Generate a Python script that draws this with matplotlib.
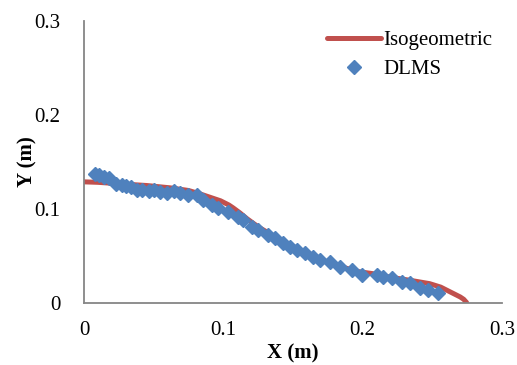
import matplotlib
matplotlib.use("Agg")
import matplotlib.pyplot as plt

# Isogeometric solution (red line)
iso_x = [0.0, 0.010, 0.026, 0.045, 0.062, 0.075, 0.083, 0.091, 0.098, 0.104,
         0.107, 0.112, 0.117, 0.122, 0.126, 0.135, 0.145, 0.155, 0.165, 0.175,
         0.185, 0.197, 0.207, 0.220, 0.235, 0.248, 0.256, 0.262, 0.266, 0.270,
         0.2725, 0.2746]
iso_y = [0.1287, 0.1282, 0.1266, 0.1248, 0.1223, 0.1195, 0.1160, 0.1120, 0.1085, 0.1040,
         0.1010, 0.0955, 0.0894, 0.0840, 0.0798, 0.0720, 0.0640, 0.0560, 0.0490, 0.0430,
         0.0380, 0.0330, 0.0309, 0.0270, 0.0235, 0.0202, 0.0165, 0.0120, 0.0090, 0.0060,
         0.0035, 0.0]

# DLMS solution (blue diamonds)
dlms_x = [0.0079, 0.0108, 0.0144, 0.0179, 0.0230, 0.0273, 0.0302, 0.0337, 0.0380, 0.0416,
          0.0467, 0.0503, 0.0546, 0.0596, 0.0646, 0.0689, 0.0747, 0.0811, 0.0854, 0.0919,
          0.0962, 0.1034, 0.1106, 0.1141, 0.1206, 0.1249, 0.1320, 0.1371, 0.1429, 0.1479,
          0.1529, 0.1587, 0.1644, 0.1694, 0.1766, 0.1838, 0.1924, 0.1996, 0.2103, 0.2146,
          0.2211, 0.2283, 0.2340, 0.2412, 0.2470, 0.2541]
dlms_y = [0.1370, 0.1355, 0.1340, 0.1330, 0.1263, 0.1253, 0.1242, 0.1231, 0.1199, 0.1199,
          0.1189, 0.1199, 0.1178, 0.1167, 0.1189, 0.1167, 0.1146, 0.1146, 0.1093, 0.1040,
          0.1008, 0.0965, 0.0912, 0.0880, 0.0805, 0.0773, 0.0720, 0.0688, 0.0634, 0.0592,
          0.0560, 0.0528, 0.0485, 0.0453, 0.0432, 0.0378, 0.0346, 0.0293, 0.0293, 0.0272,
          0.0261, 0.0218, 0.0208, 0.0155, 0.0133, 0.0101]

ticks = [0, 0.1, 0.2, 0.3]
tick_labels = ["0", "0.1", "0.2", "0.3"]

plt.rcParams["font.family"] = ["Liberation Serif", "DejaVu Serif"]

fig = plt.figure(figsize=(5.17, 3.65), dpi=100)
ax = fig.add_axes([0.1625, 0.171, 0.8085, 0.771])

ax.plot(iso_x, iso_y, color="#C0504D", linewidth=3.6, solid_capstyle="round",
        label="Isogeometric", zorder=2)
ax.plot(dlms_x, dlms_y, linestyle="none", marker="D", markersize=7.3,
        color="#4F81BD", markeredgecolor="#4F81BD", label="DLMS", zorder=3)

ax.set_xlim(0, 0.3)
ax.set_ylim(0, 0.3)
ax.set_xticks(ticks)
ax.set_xticklabels(tick_labels)
ax.set_yticks(ticks)
ax.set_yticklabels(tick_labels)
ax.tick_params(length=0, labelsize=15, pad=13)
ax.tick_params(axis="y", pad=17)

for side in ("top", "right"):
    ax.spines[side].set_visible(False)
for side in ("left", "bottom"):
    ax.spines[side].set_color("#868686")
    ax.spines[side].set_linewidth(1.3)

ax.set_xlabel("X (m)", fontsize=15, fontweight="bold", labelpad=3)
ax.set_ylabel("Y (m)", fontsize=15, fontweight="bold", labelpad=-2)

ax.legend(loc="upper right", bbox_to_anchor=(0.997, 0.995), frameon=False,
          fontsize=15, handlelength=2.6, handletextpad=0.1, labelspacing=0.45,
          borderaxespad=0.0)

fig.savefig("out.png", dpi=100)
